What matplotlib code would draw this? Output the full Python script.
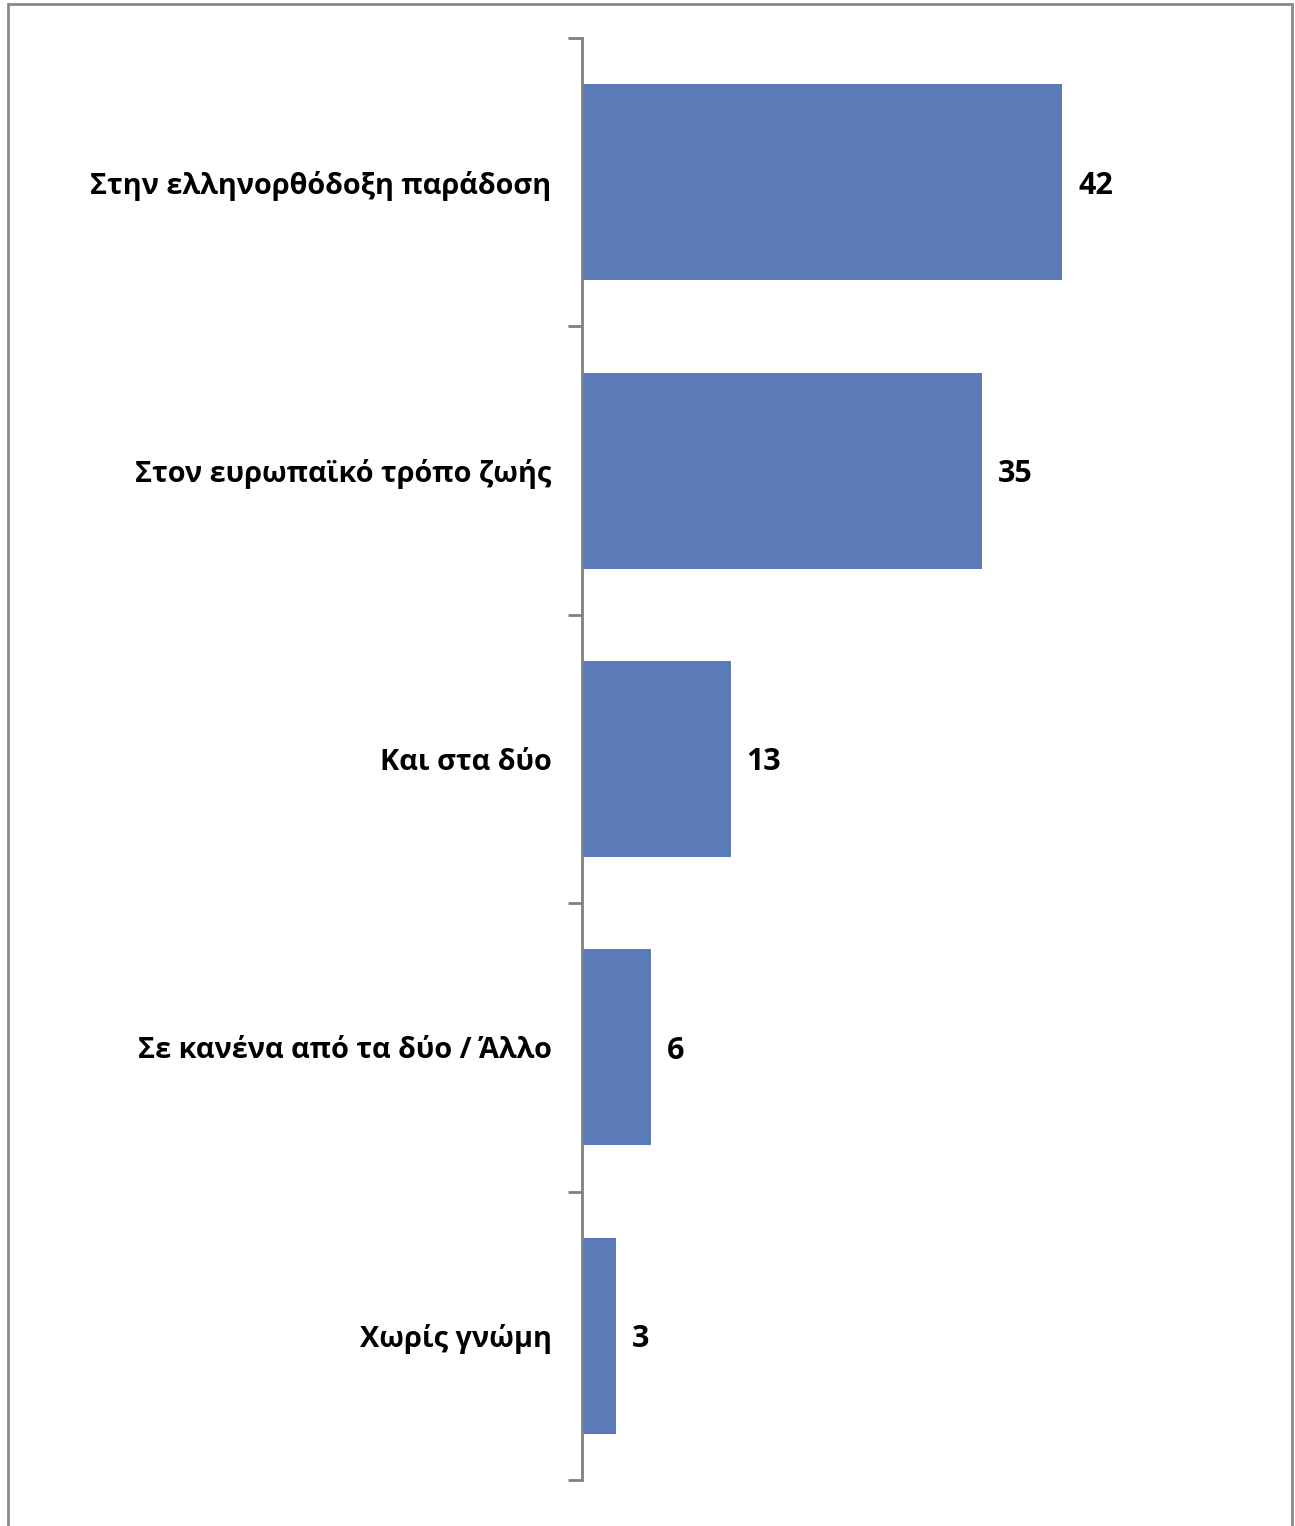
import matplotlib
matplotlib.use("Agg")
from matplotlib import pyplot as plt
from matplotlib.patches import Rectangle

# données
categories = ["Στην ελληνορθόδοξη παράδοση", "Στον ευρωπαϊκό τρόπο ζωής",
              "Και στα δύο", "Σε κανένα από τα δύο / Άλλο", "Χωρίς γνώμη"]
values = [42, 35, 13, 6, 3]

plt.rcParams['font.family'] = ['Open Sans', 'DejaVu Sans']

fig = plt.figure(figsize=(12.95, 15.26), dpi=100)
ax = fig.add_axes([582 / 1295, 1 - 1480 / 1526, 686 / 1295, 1442 / 1526])

pos = list(range(len(categories)))
ax.barh(pos, values, height=0.68, color='#5B7AB8')
ax.set_ylim(len(categories) - 0.5, -0.5)
ax.set_xlim(0, 60)

for p, v in zip(pos, values):
    ax.text(v + 1.4, p + 0.012, str(v), va='center', ha='left',
            fontsize=22, fontweight='bold')

# ticks entre les catégories
ax.set_yticks([i - 0.5 for i in range(len(categories) + 1)])
ax.set_yticklabels([])
ax.set_yticks(pos, minor=True)
ax.set_yticklabels(categories, minor=True, fontsize=20.8, fontweight='bold')
ax.tick_params(axis='y', which='major', length=10, width=2, color='#808080', direction='out')
ax.tick_params(axis='y', which='minor', length=0, pad=22)
ax.set_xticks([])

for s in ['top', 'right', 'bottom']:
    ax.spines[s].set_visible(False)
ax.spines['left'].set_color('#808080')
ax.spines['left'].set_linewidth(2)

# cadre autour de la figure
fig.patches.append(Rectangle((8 / 1295, -0.01), 1284 / 1295, 1 - 4 / 1526 + 0.01,
                             transform=fig.transFigure, fill=False,
                             edgecolor='#8a8a8a', linewidth=2))

plt.savefig("out.png")
plt.close()
